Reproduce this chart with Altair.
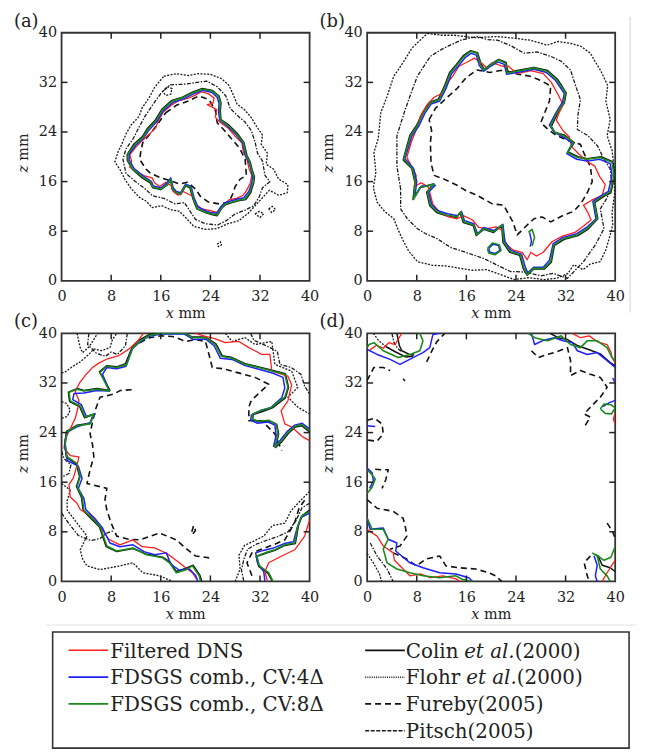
import altair as alt
import pandas as pd

FONT = "DejaVu Serif"
TICKS = [0, 8, 16, 24, 32, 40]
INNER_TICKS = [8, 16, 24, 32]
PANEL_KEYS = ["a", "b", "c", "d"]
PANEL_LETTERS = ["(a)", "(b)", "(c)", "(d)"]

# draw order (bottom -> top)
SERIES = ["Flohr", "Pitsch", "Fureby", "Colin", "DNS", "CV4", "CV8"]
COLORS = {"DNS": "#ff1f1f", "CV4": "#1f1fff", "CV8": "#1a8a1a", "Colin": "#111111",
          "Flohr": "#1a1a1a", "Pitsch": "#1a1a1a", "Fureby": "#111111"}
DASHES = {"Flohr": [2, 1.4], "Pitsch": [4, 1.5, 1.5, 1.5], "Fureby": [6, 4]}
LEGEND_DASHES = {"Flohr": [1, 1.2], "Pitsch": [4, 1.6], "Fureby": [6, 4]}
WIDTHS = {"DNS": 1.3, "CV4": 1.5, "CV8": 1.6, "Colin": 1.5, "Flohr": 1.3, "Pitsch": 1.3, "Fureby": 1.6}

# ---------------- panel (a) ----------------
A_CV8 = [[(22.7,30.9),(24.3,30.6),(25.3,29.8),(25.6,28.7),(25.5,27.4),(25.6,26.0),(26.9,25.0),(28.3,23.6),(29.3,22.3),(29.8,20.2),(30.3,19.2),(30.6,18.0),(31.0,16.8),(30.9,15.9),(30.4,14.3),(29.6,13.2),(28.5,13.0),(27.5,12.7),(26.5,12.4),(25.9,11.9),(25.1,10.6),(24.2,10.8),(23.2,11.1),(21.9,11.6),(21.3,13.2),(20.8,15.1),(20.0,15.4),(19.2,14.0),(18.5,14.2),(17.9,14.8),(17.6,16.4),(17.1,15.6),(16.0,14.8),(14.7,15.1),(14.4,15.9),(13.1,16.7),(11.5,18.0),(10.7,19.4),(10.7,20.4),(11.8,22.0),(13.1,23.1),(13.9,24.4),(15.2,25.8),(16.3,27.6),(17.9,29.0),(19.5,29.5),(21.1,30.3),(22.7,30.9)]]
A_CV4 = [[(22.8,30.7),(24.2,30.4),(25.1,29.6),(25.4,28.6),(25.3,27.3),(25.5,25.9),(26.8,24.9),(28.2,23.5),(29.2,22.2),(29.6,20.3),(30.2,19.1),(30.5,18.1),(30.8,16.8),(30.7,15.9),(30.2,14.4),(29.4,13.4),(28.4,13.2),(27.4,12.9),(26.4,12.6),(25.8,12.1),(25.0,10.9),(24.1,11.0),(23.2,11.3),(22.0,11.9),(21.4,13.3),(20.9,15.2),(20.0,15.6),(19.2,14.2),(18.5,14.4),(18.0,15.0),(17.6,16.6),(17.0,15.8),(16.0,15.0),(14.8,15.3),(14.5,16.0),(13.2,16.9),(11.7,18.1),(10.9,19.5),(10.9,20.4),(12.0,21.9),(13.2,23.0),(14.0,24.2),(15.3,25.6),(16.4,27.4),(18.0,28.8),(19.6,29.3),(21.2,30.1),(22.8,30.7)]]
A_DNS = [[(22.5,30.5),(23.6,30.2),(24.6,29.5),(24.4,28.6),(23.5,28.4),(24.3,28.0),(25.0,27.6),(24.8,26.4),(25.5,25.6),(26.9,24.6),(28.0,23.3),(29.1,22.2),(29.3,20.8),(29.9,19.6),(30.2,18.2),(30.7,17.0),(30.4,15.7),(29.8,14.5),(29.3,13.8),(28.2,13.3),(27.1,13.1),(26.0,12.2),(25.2,11.0),(24.0,11.3),(22.6,11.6),(21.7,12.3),(21.2,13.6),(20.4,14.0),(19.6,14.4),(18.8,13.8),(18.0,14.4),(17.7,15.3),(16.8,15.9),(15.8,15.2),(15.0,15.8),(14.6,16.6),(13.4,16.9),(11.9,17.7),(11.0,18.3),(11.3,19.3),(11.0,20.3),(12.0,21.6),(13.0,22.6),(14.2,23.7),(15.2,24.7),(15.5,25.6),(16.4,27.2),(17.7,28.3),(18.8,29.0),(20.3,29.4),(21.5,29.9),(22.5,30.5)]]
A_COLIN = [[(22.7,31.0),(24.3,30.7),(25.4,29.8),(25.7,28.7),(25.6,27.4),(25.7,26.0),(27.0,25.1),(28.4,23.7),(29.4,22.3),(29.9,20.2),(30.4,19.2),(30.7,18.0),(31.1,16.8),(31.0,15.9),(30.5,14.2),(29.7,13.1),(28.5,12.9),(27.5,12.6),(26.5,12.3),(25.9,11.8),(25.1,10.5),(24.2,10.7),(23.2,11.0),(21.8,11.6),(21.2,13.2),(20.7,15.0),(20.0,15.3),(19.2,13.9),(18.5,14.1),(17.8,14.8),(17.6,16.3),(17.1,15.5),(16.0,14.7),(14.7,15.0),(14.3,15.8),(13.0,16.6),(11.4,18.0),(10.6,19.4),(10.6,20.4),(11.7,22.1),(13.0,23.2),(13.8,24.5),(15.1,25.9),(16.2,27.7),(17.8,29.1),(19.5,29.6),(21.1,30.4),(22.7,31.0)]]
A_FUREBY = [[(16.8,27.1),(18.5,28.3),(20.5,29.0),(22.1,29.8),(23.8,29.2),(24.8,27.5),(25.1,25.5),(26.3,24.2),(27.5,22.8),(28.7,21.4),(29.6,19.6),(29.8,17.0),(28.8,16.4),(28.0,15.2),(27.6,14.0),(27.0,12.7),(25.4,12.4),(23.7,12.7),(22.4,13.6),(21.6,14.8),(20.3,15.9),(19.0,15.6),(17.6,16.1),(15.8,16.7),(14.4,17.3),(13.6,18.0),(12.6,19.6),(12.8,21.0),(13.1,22.3),(14.2,23.6),(15.3,25.0),(16.8,27.1)]]
A_PITSCH = [[(17.5,31.6),(19.8,31.7),(21.9,32.0),(23.4,32.2),(25.1,31.3),(26.5,29.8),(27.2,27.8),(28.4,26.6),(29.6,25.6),(30.6,24.2),(31.2,22.4),(31.6,20.6),(32.4,19.3),(32.8,17.0),(33.6,16.0),(32.4,15.0),(31.9,13.6),(31.0,12.1),(29.6,11.4),(28.0,10.8),(26.7,9.8),(25.2,9.0),(23.2,9.2),(21.6,9.9),(20.6,11.4),(19.8,12.6),(18.3,12.4),(16.5,13.3),(14.7,13.7),(13.4,14.9),(11.9,16.0),(10.4,17.3),(9.9,19.6),(10.4,21.3),(11.6,23.0),(12.4,24.6),(13.5,26.6),(14.7,28.4),(16.0,30.2),(17.5,31.6)]]
A_FLOHR = [[(16.5,33.0),(18.5,33.4),(20.5,33.1),(22.1,33.4),(24.0,33.3),(25.8,32.6),(27.0,31.5),(27.6,30.2),(28.3,28.5),(29.5,27.6),(30.6,26.3),(31.5,24.8),(32.4,23.5),(32.2,22.0),(33.2,20.6),(33.0,18.8),(34.2,18.0),(35.0,16.4),(36.5,15.5),(36.4,14.2),(35.0,13.8),(33.5,14.6),(32.4,13.4),(31.3,12.2),(30.1,10.9),(28.6,9.7),(26.8,9.2),(25.0,8.4),(23.1,8.3),(21.3,8.8),(20.0,10.2),(19.0,11.2),(17.5,11.5),(16.2,12.1),(14.6,11.8),(13.7,12.8),(12.5,13.5),(11.2,14.9),(10.2,16.4),(9.5,17.8),(8.6,19.2),(9.1,20.8),(9.7,22.0),(10.4,23.7),(11.2,25.1),(12.5,26.5),(13.0,27.9),(14.1,29.5),(15.0,31.2),(16.5,33.0)],
           [(16.3,30.5),(17.0,31.3),(17.8,31.0),(17.6,30.1),(16.8,29.9),(16.3,30.5)],
           [(31.2,10.8),(31.9,11.2),(32.6,10.8),(32.0,10.2),(31.2,10.8)],
           [(33.4,11.6),(34.0,12.0),(34.5,11.5),(33.9,11.0),(33.4,11.6)],
           [(25.1,5.9),(25.6,6.3),(25.8,5.8),(25.3,5.5),(25.1,5.9)]]

# ---------------- panel (b) ----------------
B_CV8 = [[(5.9,19.6),(7.0,23.4),(8.1,25.0),(9.1,27.1),(10.2,28.7),(11.6,29.2),(12.6,31.4),(13.4,33.5),(14.5,34.8),(15.6,36.2),(16.7,37.0),(17.7,36.7),(18.3,34.8),(18.8,34.0),(19.9,34.8),(21.2,35.6),(22.3,35.1),(22.6,33.5),(24.2,33.8),(26.9,34.3),(29.0,33.8),(30.6,32.4),(32.0,30.3),(31.7,28.7),(30.6,27.1),(29.6,25.0),(30.2,24.0),(31.7,23.4),(33.3,22.3),(32.3,20.7),(33.9,19.9),(35.5,19.6),(37.6,19.9),(39.5,19.1),(39.8,17.0),(39.2,14.3),(38.2,13.8),(36.6,12.7),(37.1,10.0),(35.5,8.4),(33.9,7.4),(31.7,6.8),(30.1,5.8),(29.6,3.1),(28.5,2.0),(26.9,2.0),(25.8,1.0),(25.3,2.0),(24.7,4.2),(23.1,4.7),(22.0,6.3),(21.8,9.0),(20.4,7.9),(18.8,8.4),(17.7,7.4),(17.2,9.0),(15.6,9.5),(15.1,11.1),(14.5,10.3),(12.9,10.6),(11.3,11.1),(10.2,12.2),(9.7,14.3),(10.8,15.6),(8.6,15.1),(7.5,13.2),(7.8,15.9),(7.3,18.1),(5.9,19.6)],
         [(19.4,5.2),(20.2,6.1),(21.3,5.8),(21.6,4.9),(20.6,4.2),(19.6,4.5),(19.4,5.2)],
         [(26.0,7.8),(26.6,8.3),(27.0,7.0),(26.6,5.6)]]
B_CV4 = [[(6.1,19.7),(7.2,23.3),(8.3,24.9),(9.3,27.0),(10.3,28.5),(11.7,29.0),(12.8,31.2),(13.6,33.4),(14.7,34.6),(15.8,36.0),(16.8,36.7),(17.6,36.4),(18.1,34.7),(18.8,33.8),(19.9,34.6),(21.1,35.3),(22.1,34.9),(22.5,33.3),(24.2,33.6),(26.9,34.1),(28.9,33.6),(30.4,32.3),(31.8,30.2),(31.5,28.8),(30.5,27.2),(29.4,25.1),(30.1,24.0),(31.6,23.2),(33.1,22.2),(32.2,20.5),(33.8,19.6),(35.5,19.3),(37.5,19.6),(39.2,18.9),(39.5,17.0),(38.9,14.4),(38.0,13.9),(36.4,12.8),(36.9,10.0),(35.4,8.6),(33.8,7.6),(31.6,7.0),(30.0,6.0),(29.4,3.3),(28.4,2.2),(26.9,2.2),(25.9,1.3),(25.5,2.2),(24.9,4.3),(23.2,4.9),(22.2,6.4),(21.9,9.1),(20.4,8.1),(18.8,8.6),(17.8,7.6),(17.2,9.2),(15.7,9.7),(15.2,11.2),(14.6,10.5),(13.0,10.8),(11.4,11.3),(10.4,12.3),(9.9,14.3),(11.0,15.4),(8.8,15.3),(7.7,13.6),(8.0,16.0),(7.5,18.1),(6.1,19.7)],
         [(19.6,5.2),(20.3,5.9),(21.2,5.7),(21.4,4.9),(20.6,4.4),(19.8,4.6),(19.6,5.2)],
         [(26.2,7.8),(26.5,6.4),(26.3,5.5)]]
B_DNS = [[(6.4,19.9),(7.2,22.6),(8.0,24.6),(8.6,26.6),(9.6,28.3),(10.8,29.6),(12.0,30.2),(12.8,31.7),(13.8,33.0),(14.8,34.6),(16.0,35.2),(17.3,35.9),(18.6,35.0),(19.4,34.2),(20.2,35.2),(21.8,34.6),(22.8,34.6),(24.2,33.4),(26.4,33.9),(28.4,33.4),(29.7,32.0),(30.8,30.0),(31.6,28.4),(31.0,27.2),(30.5,25.9),(31.6,24.2),(32.6,23.2),(33.0,21.6),(34.2,20.4),(35.4,19.3),(36.7,18.5),(37.5,16.8),(38.4,15.5),(37.9,13.8),(36.2,13.0),(34.9,12.2),(35.6,11.0),(36.1,9.8),(35.0,8.9),(33.5,7.8),(31.5,7.2),(29.8,6.3),(28.4,4.6),(27.3,4.0),(26.4,4.6),(25.8,3.4),(25.0,4.6),(23.5,5.0),(22.3,6.0),(21.9,8.1),(20.8,8.7),(19.3,8.4),(18.0,8.6),(17.0,9.8),(15.5,10.5),(14.5,10.0),(13.2,10.3),(11.8,11.0),(10.6,12.3),(10.2,13.9),(9.8,15.2),(8.7,15.8),(7.6,15.2),(7.9,17.0),(6.4,19.9)]]
B_COLIN = [[(5.8,19.5),(6.9,23.5),(8.0,25.1),(9.0,27.2),(10.1,28.8),(11.5,29.3),(12.5,31.5),(13.3,33.6),(14.4,34.9),(15.5,36.3),(16.7,37.1),(17.8,36.8),(18.4,34.9),(18.9,34.1),(19.9,34.9),(21.2,35.7),(22.4,35.2),(22.7,33.6),(24.2,33.9),(26.9,34.4),(29.1,33.9),(30.7,32.5),(32.1,30.3),(31.8,28.7),(30.7,27.0),(29.7,24.9),(30.3,23.9),(31.8,23.5),(33.4,22.3),(32.4,20.8),(34.0,20.0),(35.5,19.7),(37.7,20.0),(39.6,19.2),(39.9,17.0),(39.3,14.2),(38.3,13.7),(36.7,12.6),(37.2,10.0),(35.6,8.3),(34.0,7.3),(31.8,6.7),(30.2,5.7),(29.7,3.0),(28.6,1.9),(26.9,1.9),(25.8,0.9),(25.2,1.9),(24.6,4.1),(23.0,4.6),(21.9,6.2),(21.7,8.9),(20.4,7.8),(18.8,8.3),(17.6,7.3),(17.1,8.9),(15.5,9.4),(15.0,11.0),(14.4,10.2),(12.8,10.5),(11.2,11.0),(10.1,12.1),(9.6,14.3),(10.7,15.6),(8.5,15.0),(7.4,13.1),(7.7,15.9),(7.2,18.1),(5.8,19.5)]]
B_FUREBY = [[(10.0,26.0),(11.0,27.8),(12.8,29.5),(14.5,31.0),(16.0,32.8),(17.7,34.0),(19.8,33.6),(22.0,34.0),(24.3,33.3),(26.3,33.0),(28.2,32.2),(29.6,31.4),(29.4,29.0),(28.6,27.0),(28.0,25.5),(29.3,24.3),(30.6,23.4),(32.5,22.6),(34.4,22.0),(35.0,20.5),(36.0,18.4),(36.3,16.0),(35.5,14.2),(34.5,12.5),(33.3,11.2),(31.7,10.6),(29.6,9.5),(28.2,10.3),(26.9,10.0),(25.4,8.6),(24.2,7.4),(23.5,9.5),(22.0,12.2),(20.2,12.4),(17.7,13.8),(16.0,14.5),(14.5,15.4),(12.4,16.4),(10.8,17.0),(10.3,19.0),(10.2,22.3),(10.4,24.2),(10.0,26.0)]]
B_PITSCH = [[(5.4,14.8),(4.8,18.5),(4.8,23.4),(6.0,27.2),(7.2,30.6),(8.1,33.0),(10.2,36.2),(11.8,37.2),(13.4,38.0),(15.1,38.8),(17.7,39.4),(19.4,38.9),(21.0,38.8),(23.2,37.9),(25.3,36.7),(27.4,36.9),(29.6,36.2),(31.3,35.4),(32.8,34.0),(33.5,31.8),(34.4,29.2),(34.0,26.8),(33.9,24.4),(35.6,23.4),(37.2,21.7),(38.0,20.0),(39.2,18.0),(39.5,15.2),(38.6,13.2),(37.6,11.6),(38.2,8.4),(36.8,5.8),(34.9,3.1),(32.3,0.4),(30.0,1.2),(28.0,0.8),(25.6,1.4),(23.1,1.5),(20.8,2.6),(18.8,3.6),(15.6,4.7),(13.4,5.4),(11.3,6.8),(9.6,7.5),(8.1,8.4),(6.5,10.0),(5.4,11.6),(5.4,14.8)]]
B_FLOHR = [[(9.7,39.9),(12.0,39.6),(14.0,39.6),(17.5,39.2),(21.0,39.4),(23.8,39.1),(26.3,38.8),(28.0,38.3),(29.0,38.0),(30.8,38.6),(32.8,38.3),(34.5,37.8),(36.0,36.7),(36.8,35.3),(37.6,34.0),(38.8,31.5),(38.5,29.0),(39.2,26.0),(38.7,23.4),(39.5,21.0),(39.8,18.5),(39.9,14.0),(39.5,11.0),(39.6,9.0),(39.2,7.4),(38.5,5.0),(37.6,3.1),(36.0,2.7),(34.8,1.8),(33.3,2.6),(32.4,1.2),(30.6,0.4),(28.5,0.2),(26.0,0.5),(23.7,0.2),(21.5,1.0),(19.3,1.8),(17.0,1.7),(15.1,2.0),(12.6,2.4),(10.5,2.5),(8.1,3.1),(6.7,4.8),(5.9,6.3),(5.0,8.2),(4.3,10.0),(2.8,11.2),(1.6,12.7),(1.0,15.0),(1.4,17.5),(1.1,20.7),(1.8,23.0),(2.2,27.1),(3.2,29.7),(4.3,33.0),(5.8,35.2),(7.2,37.5),(9.7,39.9)]]

# ---------------- panel (c) ----------------
C_CV8 = [[(22.4,0.0),(22.2,0.9),(21.1,2.5),(20.1,1.9),(18.5,1.4),(17.4,3.0),(16.3,3.8),(13.7,4.3),(11.5,5.4),(8.9,4.9),(7.3,5.7),(6.2,8.9),(5.2,9.9),(3.6,11.5),(3.3,13.7),(2.5,15.3),(3.0,16.9),(2.5,19.0),(0.9,20.1),(0.6,22.2),(0.9,24.1),(2.5,25.1),(4.6,25.4),(5.2,27.0),(3.8,26.5),(3.0,28.3),(1.4,29.1),(1.2,30.5),(2.5,31.0),(3.6,30.7),(5.7,31.0),(7.7,30.7),(6.9,32.3),(6.2,33.7),(7.3,34.7),(8.9,34.5),(10.5,35.0),(11.5,37.7),(12.6,38.7),(14.2,39.7),(16.0,40.0),(20.0,40.0),(21.1,39.3),(23.2,39.3),(24.8,38.2),(25.8,36.3),(27.5,36.0),(29.6,35.0),(31.8,34.5),(34.1,33.9),(36.0,33.4),(36.5,31.3),(36.0,29.7),(33.9,28.1),(32.3,27.6),(30.8,27.0),(30.7,26.2),(31.8,25.8),(33.4,26.0),(34.6,25.4),(34.9,23.8),(34.4,21.7),(35.4,22.6),(36.5,24.0),(37.6,25.0),(38.7,25.3),(40.0,24.3)],
         [(40.0,11.3),(38.7,10.5),(38.1,8.9),(37.6,6.2),(36.0,5.9),(34.4,5.1),(32.8,4.6),(31.5,4.1),(31.9,2.5),(33.4,1.4),(34.1,0.0)]]
C_CV4 = [[(22.0,0.0),(21.6,1.0),(20.5,2.1),(19.0,1.8),(17.6,2.8),(16.9,4.6),(15.0,4.3),(13.3,4.8),(11.5,5.9),(9.4,5.6),(7.8,6.2),(6.6,8.6),(5.4,10.1),(3.9,11.6),(3.6,13.4),(2.7,15.0),(3.3,16.6),(2.7,18.6),(0.9,19.5),(0.5,22.0),(0.8,24.0),(2.4,24.9),(4.6,25.6),(5.4,27.0),(4.0,26.6),(3.2,28.5),(1.8,29.3),(2.0,30.3),(3.6,30.4),(5.7,30.8),(7.7,30.7),(7.2,32.0),(6.6,33.4),(7.3,34.5),(8.9,34.3),(10.4,34.7),(11.3,37.4),(12.4,38.4),(14.0,39.5),(16.0,39.9),(19.8,39.9),(21.3,39.0),(23.2,39.1),(24.6,38.0),(25.6,36.0),(27.5,35.8),(29.6,34.8),(31.8,34.2),(34.0,33.6),(35.7,32.9),(36.0,31.2),(35.5,29.6),(33.7,28.0),(32.2,27.6),(30.6,26.8),(30.5,26.0),(31.6,25.5),(33.3,25.7),(34.4,25.2),(34.6,23.6),(34.2,21.8),(35.3,22.8),(36.4,24.2),(37.6,25.2),(38.8,25.5),(40.0,24.6)],
         [(40.0,11.0),(38.6,10.3),(38.0,8.7),(37.4,6.4),(35.9,6.1),(34.2,5.4),(32.5,5.0),(31.3,4.6),(31.6,3.0),(32.6,1.6),(32.8,0.0)]]
C_DNS = [[(13.2,40.0),(12.3,38.8),(10.9,37.5),(9.2,36.4),(7.4,35.9),(6.0,35.2),(4.9,34.4),(3.8,33.2),(2.9,32.0),(2.2,30.6),(2.8,29.2),(2.6,27.8),(2.2,26.3),(1.4,24.6),(0.6,23.0),(0.4,21.5),(1.4,20.3),(2.8,20.1),(2.4,18.4),(1.9,16.7),(1.2,15.6),(1.4,13.6),(2.5,12.6),(3.0,11.6),(5.0,10.4),(6.2,8.9),(7.6,6.8),(9.4,5.9),(11.5,6.7),(13.0,5.6),(15.0,5.4),(17.0,4.5),(19.0,3.0),(20.0,2.2),(21.1,1.4),(22.0,0.0)],
         [(21.6,40.0),(23.2,39.5),(24.6,39.2),(26.4,38.5),(28.6,38.7),(30.2,37.7),(32.3,36.6),(33.6,36.6),(33.9,33.9),(36.5,33.1),(37.1,31.7),(36.5,29.1),(35.4,27.5),(36.0,25.4),(37.1,24.9),(38.9,23.3),(40.0,22.7)],
         [(40.0,9.9),(39.2,7.3),(37.6,5.1),(35.5,4.1),(33.4,3.0),(32.8,1.6),(33.2,0.0)]]
C_COLIN = [[(22.6,0.0),(22.3,1.0),(21.2,2.6),(20.0,2.1),(18.5,1.6),(17.5,3.1),(16.3,3.9),(13.7,4.4),(11.5,5.3),(8.9,4.8),(7.2,5.6),(6.1,8.8),(5.1,9.8),(3.5,11.4),(3.2,13.6),(2.4,15.3),(2.9,16.9),(2.4,18.9),(0.8,20.0),(0.5,22.2),(0.8,24.2),(2.5,25.2),(4.6,25.5),(5.1,26.9),(3.7,26.4),(2.9,28.2),(1.3,29.0),(1.1,30.5),(2.5,31.1),(3.6,30.8),(5.7,31.1),(7.8,30.8),(7.0,32.3),(6.1,33.8),(7.3,34.8),(8.9,34.6),(10.3,35.1),(11.4,37.8),(12.5,38.9),(14.1,39.8),(16.0,40.0),(20.0,40.0),(21.1,39.4),(23.2,39.4),(24.9,38.3),(25.9,36.4),(27.5,36.1),(29.6,35.1),(31.8,34.6),(34.1,34.0),(36.1,33.5),(36.6,31.3),(36.1,29.6),(34.0,28.0),(32.4,27.4),(30.9,26.9),(30.8,26.1),(31.9,25.7),(33.5,25.9),(34.7,25.3),(35.0,23.8),(34.5,21.6),(35.5,22.5),(36.6,23.9),(37.7,24.9),(38.7,25.1),(40.0,24.1)],
           [(40.0,11.5),(38.8,10.6),(38.2,9.0),(37.7,6.1),(36.0,5.8),(34.4,5.0),(32.8,4.5),(31.4,4.0),(31.8,2.4),(33.3,1.3),(34.0,0.0)]]
C_FUREBY = [[(12.6,38.5),(14.2,39.3),(16.0,39.6),(17.9,39.5),(20.1,38.7),(21.6,39.0),(23.2,38.7),(23.8,36.5),(24.3,34.5),(26.0,34.3),(27.5,33.9),(29.4,33.4),(31.2,32.9),(33.4,31.8),(32.0,30.5),(30.6,29.2),(30.2,28.1),(30.2,25.9),(32.3,25.9),(34.4,23.8),(35.5,21.1)],
            [(11.3,30.9),(9.5,30.8),(8.4,30.2),(6.2,29.7),(5.5,27.8),(5.0,25.8),(4.6,23.8),(5.0,22.0),(5.2,20.1),(4.6,18.0),(4.1,15.8),(7.3,15.0),(7.0,13.2),(7.3,11.5),(8.0,9.4),(8.9,7.3),(10.8,6.8),(12.6,6.7),(15.8,7.8),(17.3,7.2),(18.5,6.7),(20.2,5.2),(21.6,4.1),(23.8,3.8)],
            [(39.2,13.1),(38.3,11.8),(37.6,9.5),(36.0,6.7),(34.4,6.0),(32.8,5.4),(30.7,4.6),(29.9,3.0),(30.7,0.9)],
            [(21.0,8.0),(21.3,9.0),(21.6,8.2),(21.1,7.6),(21.0,8.0)]]
C_FLOHR = [[(0.0,33.6),(0.6,33.8),(2.0,34.8),(3.0,35.4),(4.4,36.6),(5.2,37.5),(6.4,37.2),(7.8,37.7),(8.2,39.0),(8.9,40.0)],
           [(2.5,40.0),(3.0,37.7),(3.4,36.9),(4.4,37.8),(5.0,38.7),(5.8,40.0)],
           [(0.0,29.0),(0.8,28.7),(1.4,27.6),(0.9,26.6),(0.0,26.3)],
           [(0.0,15.8),(1.4,14.7),(0.9,13.0),(0.9,11.5),(2.5,9.4),(4.1,7.3),(3.0,5.1),(3.4,3.6),(4.1,2.5),(6.2,1.9),(9.4,2.5),(11.5,3.0),(13.1,1.4),(15.8,0.9),(17.9,0.0)],
           [(26.4,40.0),(27.5,38.7),(29.6,39.3),(31.2,38.2),(33.9,38.7),(34.4,35.0),(37.1,33.9),(38.1,31.3),(36.5,29.7),(38.1,28.1),(40.0,27.0)],
           [(40.0,14.5),(38.5,13.0),(37.0,11.4),(36.0,9.4),(34.0,9.0),(32.6,7.3),(31.0,6.5),(29.5,5.8),(28.6,4.2),(28.8,2.0),(28.0,0.0)]]
C_PITSCH = [[(4.4,40.0),(4.2,38.2),(5.6,36.8),(7.1,36.3),(8.0,37.0),(9.0,36.6),(10.3,38.0),(10.6,40.0)],
            [(0.0,21.0),(0.4,19.8),(1.5,18.8),(1.2,17.4),(0.0,16.8)],
            [(0.0,11.0),(1.2,9.3),(2.7,7.4),(4.7,6.6),(6.2,6.9),(7.3,7.8),(8.5,8.2)],
            [(30.5,40.0),(31.0,38.9),(33.0,38.0),(34.8,37.1),(35.2,35.0),(37.0,34.5),(38.6,33.4),(39.2,31.5),(40.0,30.2)],
            [(40.0,12.6),(38.8,11.9),(37.8,9.8),(36.5,8.0),(34.8,7.2),(33.0,6.6),(31.4,6.0),(30.0,5.2),(29.4,3.6),(29.0,1.8),(29.4,0.0)]]

# ---------------- panel (d) ----------------
D_CV8 = [[(0.0,37.7),(0.3,38.2),(1.1,38.5),(2.6,37.2),(5.0,36.1),(6.9,36.6),(8.5,37.2),(9.0,38.8),(8.5,40.0)],
         [(26.0,40.0),(27.0,39.3),(29.1,38.8),(31.3,39.6),(32.8,38.2),(34.4,37.7),(35.5,38.8),(37.1,38.8),(38.7,37.7),(39.5,36.1),(40.0,35.6)],
         [(37.6,27.8),(38.2,28.6),(39.3,28.5),(40.0,28.0),(39.4,27.0),(38.4,27.1),(37.6,27.8)],
         [(0.0,18.0),(0.7,17.3),(1.3,16.5),(0.8,15.2),(0.0,14.2)],
         [(0.0,10.2),(0.8,8.4),(2.6,8.4),(3.4,6.8),(2.6,5.2),(3.2,3.0),(4.8,2.0),(6.9,1.4),(9.0,0.9),(11.7,0.6),(14.3,0.9),(15.4,0.3),(17.0,0.0)],
         [(36.3,4.6),(37.1,4.1),(37.6,2.0),(38.7,0.9),(39.2,0.0)],
         [(36.8,4.4),(38.2,3.4),(39.3,3.9),(40.0,5.6)]]
D_CV4 = [[(0.0,37.4),(1.6,36.6),(3.7,35.8),(5.3,35.0),(7.4,36.1),(9.0,36.9),(10.1,37.7),(10.6,39.8),(11.7,40.0)],
         [(26.5,40.0),(27.0,38.2),(28.5,38.9),(30.2,39.3),(31.6,38.8),(33.1,38.5),(33.9,37.2),(35.5,36.6),(37.1,36.9),(38.7,35.6),(40.0,34.5)],
         [(39.6,32.8),(40.0,32.0)],
         [(38.0,28.2),(39.0,28.8),(40.0,29.2)],
         [(0.0,25.1),(1.3,25.0)],
         [(0.0,18.3),(0.8,17.5),(1.0,16.2),(0.4,15.0)],
         [(0.0,10.0),(0.5,8.4),(2.6,8.6),(3.4,6.8),(4.8,6.2),(4.6,4.9),(6.9,3.0),(9.0,2.2),(11.7,1.4),(14.3,1.2),(16.4,0.6),(17.0,0.0)],
         [(36.6,4.1),(37.1,2.6),(36.8,0.9),(37.1,0.0)]]
D_DNS = [[(0.4,37.3),(1.5,38.1),(2.6,37.6),(3.5,38.5),(4.5,38.2),(5.2,39.4),(5.6,40.0)],
         [(33.1,40.0),(34.4,39.3),(35.8,39.6),(37.2,38.6),(38.7,38.2),(39.3,37.0),(39.5,36.1),(40.0,35.2)],
         [(40.0,27.2),(39.7,26.2),(40.0,25.4)],
         [(0.0,8.4),(1.6,7.3),(2.6,5.7),(4.2,4.6),(4.4,3.4),(5.8,2.0),(6.9,0.9),(8.6,1.2),(10.2,0.6),(12.2,0.9),(14.3,0.4),(15.0,0.0)],
         [(37.9,0.0),(38.7,1.4),(39.7,3.0),(40.0,3.4)]]
D_COLIN = [[(4.8,40.0),(5.2,38.0),(5.6,37.2),(6.8,36.6),(7.6,36.5)],
           [(2.8,38.0),(4.6,37.0),(6.2,36.2),(7.4,36.3)],
           [(29.5,40.0),(30.8,39.3),(32.3,39.0),(34.0,38.0),(35.7,37.4),(37.6,36.7),(39.2,35.3),(40.0,34.8)],
           [(37.2,4.2),(37.9,2.6),(39.2,2.2),(40.0,1.6)]]
D_FUREBY = [[(0.0,32.4),(1.1,34.5),(2.6,34.5),(3.7,34.0)],
            [(9.6,35.4),(10.4,37.1),(11.2,38.6),(12.5,40.0)],
            [(26.5,37.2),(27.6,36.1),(29.1,36.6),(30.2,36.9),(32.3,37.7),(32.8,35.6),(32.8,33.2),(34.4,34.0),(36.0,33.4),(37.6,32.9),(38.7,31.3),(37.6,29.7),(36.0,28.1),(35.0,27.0),(36.0,26.5),(35.0,24.9)],
            [(0.0,26.0),(1.2,26.3),(2.4,25.4),(2.6,23.8),(1.6,22.6),(0.0,22.8)],
            [(1.3,18.1),(2.4,18.0),(3.4,18.0),(3.0,16.4),(2.4,15.0)],
            [(0.0,13.2),(1.6,11.8),(4.2,11.3),(5.8,10.2),(6.2,8.6),(6.4,7.3),(5.3,5.7),(3.7,5.2)],
            [(4.2,4.6),(6.4,3.6),(7.9,2.5),(9.5,3.6),(11.7,4.1),(12.7,2.5),(14.8,2.2),(17.5,2.0),(19.6,1.4),(20.7,0.9),(21.7,0.0)],
            [(38.7,9.4),(39.5,8.2),(40.0,7.0)],
            [(36.0,4.1),(35.0,3.0),(35.5,0.9),(35.8,0.0)],
            [(5.8,32.7),(6.1,32.3)]]
D_PITSCH = [[(4.0,40.0),(4.3,38.6),(4.9,37.6),(5.6,37.0)],
            [(0.5,6.2),(1.6,4.1),(3.2,2.0),(4.2,0.0)]]
D_FLOHR = [[(1.0,40.0),(1.8,38.9),(2.6,38.2),(3.8,37.4)],
           [(0.0,4.5),(1.0,3.0),(2.0,1.2),(2.3,0.0)]]

PANELS = {
    "a": {"Flohr": A_FLOHR, "Pitsch": A_PITSCH, "Fureby": A_FUREBY, "Colin": A_COLIN, "DNS": A_DNS, "CV4": A_CV4, "CV8": A_CV8},
    "b": {"Flohr": B_FLOHR, "Pitsch": B_PITSCH, "Fureby": B_FUREBY, "Colin": B_COLIN, "DNS": B_DNS, "CV4": B_CV4, "CV8": B_CV8},
    "c": {"Flohr": C_FLOHR, "Pitsch": C_PITSCH, "Fureby": C_FUREBY, "Colin": C_COLIN, "DNS": C_DNS, "CV4": C_CV4, "CV8": C_CV8},
    "d": {"Flohr": D_FLOHR, "Pitsch": D_PITSCH, "Fureby": D_FUREBY, "Colin": D_COLIN, "DNS": D_DNS, "CV4": D_CV4, "CV8": D_CV8},
}

# legend: (series, column, row, [(text piece, style)])
LEGEND = [
    ("DNS", 0, 0, [("Filtered DNS", "normal")]),
    ("CV4", 0, 1, [("FDSGS comb., CV:4\u0394", "normal")]),
    ("CV8", 0, 2, [("FDSGS comb., CV:8\u0394", "normal")]),
    ("Colin", 1, 0, [("Colin ", "normal"), ("et al.", "italic"), ("(2000)", "normal")]),
    ("Flohr", 1, 1, [("Flohr ", "normal"), ("et al.", "italic"), ("(2000)", "normal")]),
    ("Fureby", 1, 2, [("Fureby(2005)", "normal")]),
    ("Pitsch", 1, 3, [("Pitsch(2005)", "normal")]),
]

# DejaVu Serif advance widths (per 1000 em) for offsetting text pieces
W_NORMAL = {"C": 734, "o": 602, "l": 320, "i": 320, "n": 644, " ": 318, "F": 683, "h": 644, "r": 478}
W_ITALIC = {"e": 592, "t": 402, " ": 318, "a": 596, "l": 320, ".": 318}


def text_width(s, style, size):
    table = W_ITALIC if style == "italic" else W_NORMAL
    return sum(table.get(ch, 600) for ch in s) * size / 1000.0


rows = []
for pk, series_map in PANELS.items():
    for s, segs in series_map.items():
        for k, seg in enumerate(segs):
            for i, (x, z) in enumerate(seg):
                rows.append({"panel": pk, "series": s, "seg": f"{s}{k}", "i": i, "x": x, "z": z})
DF = pd.DataFrame(rows)

W = 250
H = 250
INK = "#222222"
XS = alt.Scale(domain=[0, 40], nice=False, zero=False)
YS = alt.Scale(domain=[0, 40], nice=False, zero=False)
XAX = alt.Axis(values=TICKS, title=None, ticks=False, domain=False, grid=False, labelFont=FONT,
               labelFontSize=14.5, labelColor=INK, labelPadding=9, labelFlush=False)
YAX = alt.Axis(values=TICKS, title=None, ticks=False, domain=False, grid=False, labelFont=FONT,
               labelFontSize=14.5, labelColor=INK, labelPadding=5, labelFlush=False)

one = pd.DataFrame({"k": [0]})
tick_df = pd.DataFrame({"t": INNER_TICKS})


def txt(s, x, y, size=14.5, style="normal", align="left", baseline="alphabetic", angle=0):
    kw = dict(font=FONT, fontSize=size, fontStyle=style, color=INK, align=align, baseline=baseline)
    if angle:
        kw["angle"] = angle
    return alt.Chart(pd.DataFrame({"s": [s]})).mark_text(**kw).encode(
        text="s:N", x=alt.value(x), y=alt.value(y))


def build_panel(idx, key):
    dfp = DF[DF.panel == key]
    layers = []
    for s in SERIES:
        d = dfp[dfp.series == s]
        if d.empty:
            continue
        mk = dict(clip=True, color=COLORS[s], strokeWidth=WIDTHS[s], strokeCap="butt", strokeJoin="round")
        if s in DASHES:
            mk["strokeDash"] = DASHES[s]
        layers.append(alt.Chart(d).mark_line(**mk).encode(
            x=alt.X("x:Q", scale=XS, axis=XAX),
            y=alt.Y("z:Q", scale=YS, axis=YAX),
            detail="seg:N", order="i:Q"))
    tc = alt.Chart(tick_df)
    tk = dict(color=INK, strokeWidth=1.5)
    layers.append(tc.mark_rule(**tk).encode(x=alt.X("t:Q", scale=XS, axis=XAX), y=alt.value(H), y2=alt.value(H - 6)))
    layers.append(tc.mark_rule(**tk).encode(x=alt.X("t:Q", scale=XS, axis=XAX), y=alt.value(0), y2=alt.value(6)))
    layers.append(tc.mark_rule(**tk).encode(y=alt.Y("t:Q", scale=YS, axis=YAX), x=alt.value(0), x2=alt.value(6)))
    layers.append(tc.mark_rule(**tk).encode(y=alt.Y("t:Q", scale=YS, axis=YAX), x=alt.value(W), x2=alt.value(W - 6)))
    # panel letter
    layers.append(txt(PANEL_LETTERS[idx], -48, -20, size=18, baseline="top"))
    # axis titles with italic variable names
    layers.append(txt("x", 105, H + 38, size=14.5, style="italic"))
    layers.append(txt("mm", 117.8, H + 38, size=14.5))
    layers.append(txt("z", -38, 141, size=14.5, style="italic", baseline="middle", angle=270))
    layers.append(txt("mm", -38, 129, size=14.5, baseline="middle", angle=270))
    if key == "b":
        layers.append(alt.Chart(one).mark_rule(color="#d0d0d0", strokeWidth=1).encode(
            x=alt.value(265), y=alt.value(-16), y2=alt.value(282)))
    if key == "c":
        # legend box drawn below panel (c)
        layers.append(alt.Chart(one).mark_rule(color="#e2e2e2", strokeWidth=1).encode(
            x=alt.value(-16), x2=alt.value(579), y=alt.value(294)))
        layers.append(alt.Chart(one).mark_rect(filled=False, stroke="#333333", strokeWidth=1.6).encode(
            x=alt.value(-9), x2=alt.value(572), y=alt.value(301), y2=alt.value(418)))
        LX = [7, 306]
        TX = [49, 347]
        FS = 20
        for s, col, row, pieces in LEGEND:
            yl = 319.5 + 27 * row
            mk = dict(color=COLORS[s], strokeWidth=WIDTHS[s] + 0.2, strokeCap="butt")
            if s in LEGEND_DASHES:
                mk["strokeDash"] = LEGEND_DASHES[s]
            layers.append(alt.Chart(one).mark_rule(**mk).encode(
                x=alt.value(LX[col]), x2=alt.value(LX[col] + 40), y=alt.value(yl)))
            xo = TX[col]
            for ptxt, style in pieces:
                layers.append(txt(ptxt, xo, yl + 7.3, size=FS, style=style))
                xo += text_width(ptxt, style, FS)
    return alt.layer(*layers).properties(width=W, height=H)


panels = [build_panel(i, k) for i, k in enumerate(PANEL_KEYS)]

chart = alt.concat(*panels, columns=2, spacing={"row": 53, "column": 58}, bounds="flush").properties(
    padding={"left": 5, "top": 1, "right": 0, "bottom": 0},
    background="white",
).configure_view(stroke="#333333", strokeWidth=1.8)

chart.save("out.html", embed_options={"renderer": "svg", "actions": False})
